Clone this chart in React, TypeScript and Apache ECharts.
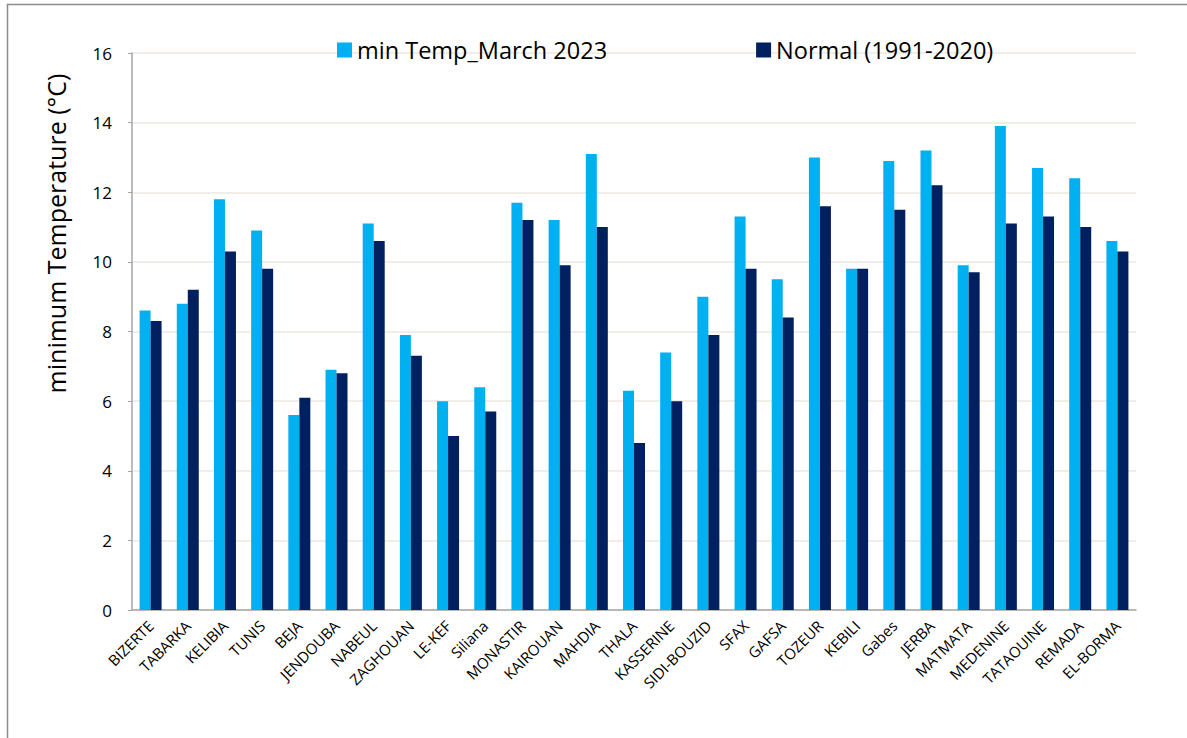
import React, { useEffect, useRef } from "react";
import * as echarts from "echarts";

const stations = [
  "BIZERTE", "TABARKA", "KELIBIA", "TUNIS", "BEJA", "JENDOUBA", "NABEUL", "ZAGHOUAN", "LE-KEF",
  "Siliana", "MONASTIR", "KAIROUAN", "MAHDIA", "THALA", "KASSERINE", "SIDI-BOUZID", "SFAX",
  "GAFSA", "TOZEUR", "KEBILI", "Gabes", "JERBA", "MATMATA", "MEDENINE", "TATAOUINE", "REMADA", "EL-BORMA",
];
const minTempMarch2023 = [
  8.6, 8.8, 11.8, 10.9, 5.6, 6.9, 11.1, 7.9, 6.0, 6.4, 11.7, 11.2, 13.1, 6.3, 7.4, 9.0, 11.3,
  9.5, 13.0, 9.8, 12.9, 13.2, 9.9, 13.9, 12.7, 12.4, 10.6,
];
const normal1991_2020 = [
  8.3, 9.2, 10.3, 9.8, 6.1, 6.8, 10.6, 7.3, 5.0, 5.7, 11.2, 9.9, 11.0, 4.8, 6.0, 7.9, 9.8,
  8.4, 11.6, 9.8, 11.5, 12.2, 9.7, 11.1, 11.3, 11.0, 10.3,
];
const seriesNames = ["min Temp_March 2023", "Normal (1991-2020)"];
const yAxisName = "minimum Temperature (°C)";

const FONT = "'Open Sans', 'Noto Sans', sans-serif";

export default function App() {
  const ref = useRef<HTMLDivElement>(null);
  useEffect(() => {
    if (!ref.current) return;
    const chart = echarts.init(ref.current, undefined, { renderer: "svg" });
    chart.setOption({
      animation: false,
      backgroundColor: "#ffffff",
      textStyle: { fontFamily: FONT },
      graphic: [
        {
          type: "rect",
          shape: { x: 7.5, y: 4.5, width: 1200, height: 800 },
          style: { fill: "none", stroke: "#8c8c8c", lineWidth: 1.5 },
          silent: true,
        },
      ],
      legend: {
        top: 33,
        left: 332,
        itemWidth: 15,
        itemHeight: 15,
        itemGap: 149,
        icon: "rect",
        textStyle: { fontSize: 23.5, color: "#000", fontFamily: FONT },
        data: seriesNames,
      },
      grid: { left: 132, right: 51, top: 53, bottom: 128, containLabel: false, outerBoundsMode: "none" },
      xAxis: {
        type: "category",
        data: stations,
        axisLine: { lineStyle: { color: "#a6a6a6", width: 1.5 } },
        axisTick: { show: false },
        axisLabel: {
          rotate: 45,
          interval: 0,
          fontSize: 15,
          color: "#000",
          fontFamily: FONT,
          margin: 13,
        },
      },
      yAxis: {
        type: "value",
        min: 0,
        max: 16,
        interval: 2,
        name: yAxisName,
        nameLocation: "middle",
        nameGap: 64,
        nameRotate: 90,
        nameTextStyle: { fontSize: 25, color: "#000", fontFamily: FONT, padding: [0, 0, 0, 196] },
        axisLine: { show: true, lineStyle: { color: "#a6a6a6", width: 1.5 } },
        axisTick: { show: true, length: 4, lineStyle: { color: "#a6a6a6" } },
        axisLabel: { fontSize: 17, color: "#000", fontFamily: FONT, margin: 20 },
        splitLine: { lineStyle: { color: "#ebe8df", width: 1.5 } },
      },
      series: [
        {
          name: seriesNames[0],
          type: "bar",
          data: minTempMarch2023,
          barWidth: 11,
          barGap: "0%",
          itemStyle: { color: "#00b0f0" },
        },
        {
          name: seriesNames[1],
          type: "bar",
          data: normal1991_2020,
          barWidth: 11,
          barGap: "0%",
          itemStyle: { color: "#002060" },
        },
      ],
    });
    return () => chart.dispose();
  }, []);
  return (
    <div
      ref={ref}
      style={{ position: "fixed", left: 0, top: 0, width: 1187, height: 738 }}
    />
  );
}
